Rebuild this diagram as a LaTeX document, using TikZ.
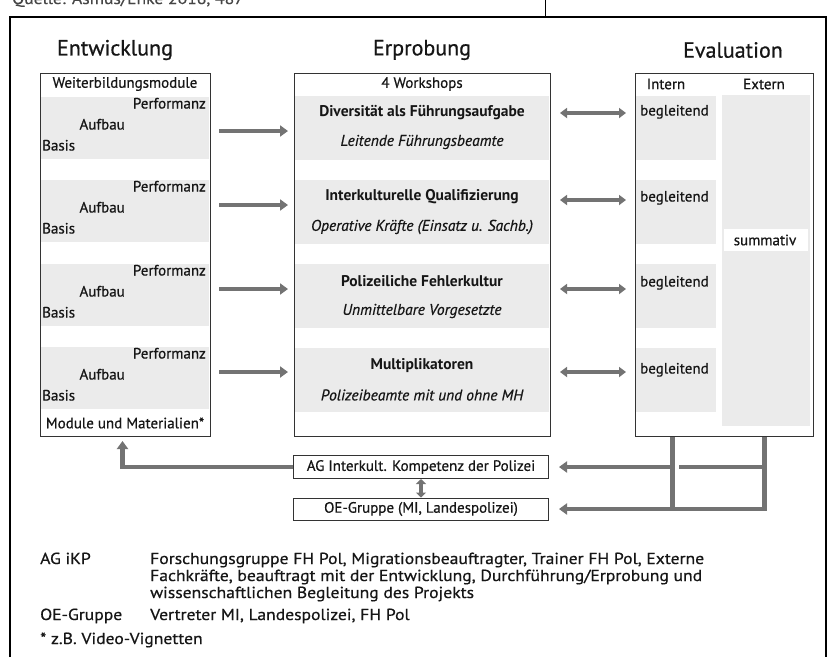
\documentclass[tikz,border=0pt]{standalone}
\usepackage{fontspec}
\setmainfont{PT Sans}
\newfontfamily\medfont[FakeBold=0.6]{PT Sans}
\newfontfamily\legfont[FakeBold=0.6,FakeStretch=1.1]{PT Sans}
\newfontfamily\meditfont[FakeBold=0.6]{PT Sans Italic}
\usetikzlibrary{arrows.meta}
\definecolor{arr}{HTML}{737373}
\definecolor{band}{HTML}{EBEBEB}
\definecolor{bord}{HTML}{333333}
\definecolor{ink}{HTML}{161616}
\begin{document}
\begin{tikzpicture}[x=1pt,y=-1pt,
  boxframe/.style={draw=bord,line width=1pt,inner sep=0pt},
  title/.style={font=\medfont\fontsize{22}{26}\selectfont,text=ink,inner sep=0pt},
  txt/.style={font=\medfont\fontsize{15}{18}\selectfont,text=ink,inner sep=0pt},
  btxt/.style={font=\fontsize{15.5}{18}\selectfont\bfseries,text=ink,inner sep=0pt},
  itxt/.style={font=\meditfont\fontsize{15.5}{18}\selectfont,text=ink,inner sep=0pt},
  leg/.style={font=\legfont\fontsize{16}{19}\selectfont,text=ink,inner sep=0pt},
  fat/.style={draw=arr,line width=4.5pt},
  tip/.tip={Triangle[length=8pt,width=11pt]},
  stip/.tip={Triangle[length=7pt,width=10pt]}
]
\useasboundingbox (0,0) rectangle (827,657);
\fill[white] (0,0) rectangle (827,657);

% caption line cut at top
\node[leg,anchor=base west,text=ink!80] (src) at (12,4) {Quelle: Asmus/Enke 2016, 487};
% outer frame
\draw[line width=1.5pt] (10,657) -- (10,17) -- (826,17) -- (826,657);
\draw[line width=1pt] (545,0) -- (545,17);

% titles
\node[title] (t1) at (115,50) {Entwicklung};
\node[title] (t2) at (422,50) {Erprobung};
\node[title] (t3) at (733,50) {Evaluation};

% shading bands
\foreach \d in {0,83,167,250}{
  \fill[band] (41,97+\d) rectangle (209,159+\d);
}
\foreach \d in {0,84,168,252}{
  \fill[band] (295,96+\d) rectangle (549,160+\d);
  \fill[band] (636,96+\d) rectangle (716,160+\d);
}
\fill[band] (722,95) rectangle (810,426);
\fill[white] (724,229) rectangle (808,251);

% three main boxes
\node[boxframe,anchor=north west,minimum width=170pt,minimum height=363pt] (L) at (40,73) {};
\node[boxframe,anchor=north west,minimum width=256pt,minimum height=363pt] (M) at (294,73) {};
\node[boxframe,anchor=north west,minimum width=178pt,minimum height=363pt] (R) at (635,73) {};

% left box texts
\node[txt] (lh) at (125,84) {Weiterbildungsmodule};
\foreach \d/\n in {0/1,83/2,167/3,250/4}{
  \node[txt,anchor=mid east] (perf\n) at (206,106+\d) {Performanz};
  \node[txt,anchor=mid east] (auf\n) at (125,127+\d) {Aufbau};
  \node[txt,anchor=mid west] (bas\n) at (42,148+\d) {Basis};
}
\node[txt] (lm) at (125,423) {Module und Materialien*};

% middle box texts
\node[txt] (mh) at (422,84) {4 Workshops};
\node[btxt] (w1) at (422,113) {Diversität als Führungsaufgabe};
\node[itxt] (g1) at (422,142) {Leitende Führungsbeamte};
\node[btxt] (w2) at (422,197) {Interkulturelle Qualifizierung};
\node[itxt] (g2) at (422,227) {Operative Kräfte (Einsatz u. Sachb.)};
\node[btxt] (w3) at (422,281) {Polizeiliche Fehlerkultur};
\node[itxt] (g3) at (422,311) {Unmittelbare Vorgesetzte};
\node[btxt] (w4) at (422,366) {Multiplikatoren};
\node[itxt] (g4) at (422,395) {Polizeibeamte mit und ohne MH};

% right box texts
\node[txt] (ri) at (666,84) {Intern};
\node[txt] (re) at (764,84) {Extern};
\node[txt,anchor=mid west] (b1) at (640,113) {begleitend};
\node[txt,anchor=mid west] (b2) at (640,199) {begleitend};
\node[txt,anchor=mid west] (b3) at (640,284) {begleitend};
\node[txt,anchor=mid west] (b4) at (640,371) {begleitend};
\node[txt] (sm) at (765,240) {summativ};

% row coordinates
\coordinate (r1) at (0,131);
\coordinate (r2) at (0,205);
\coordinate (r3) at (0,289);
\coordinate (r4) at (0,372);
\coordinate (s1) at (0,113);
\coordinate (s2) at (0,200);
\coordinate (s3) at (0,289);
\coordinate (s4) at (0,372);

% arrows left -> middle
\foreach \r in {r1,r2,r3,r4}{
  \draw[fat,-tip] ([xshift=8pt]L.east |- \r) -- ([xshift=-6pt]M.west |- \r);
}
% double arrows middle <-> right
\foreach \s in {s1,s2,s3,s4}{
  \draw[fat,stip-stip] ([xshift=9pt]M.east |- \s) -- ([xshift=-9pt]R.west |- \s);
}

% bottom boxes
\node[boxframe,minimum width=255pt,minimum height=23pt,txt] (AG) at (421,467) {AG Interkult. Kompetenz der Polizei};
\node[boxframe,minimum width=255pt,minimum height=22pt,txt] (OE) at (421,509) {OE-Gruppe (MI, Landespolizei)};

% AG -> left box
\draw[fat,-tip] (AG.west) -| ([xshift=-3pt,yshift=-4pt]L.south);
% AG <-> OE
\draw[fat,{Triangle[length=5pt,width=10pt]}-{Triangle[length=5pt,width=10pt]}] (AG.south) -- (OE.north);

% evaluation feedback lines
\coordinate (vi) at ([xshift=-52pt]R.south);
\coordinate (ve) at ([xshift=40pt]R.south);
\draw[fat] (ve |- AG.east) -- ([xshift=6pt]vi |- AG.east);
\draw[fat,-tip] ([xshift=2pt]vi |- AG.east) -- ([xshift=10pt]AG.east);
\draw[fat] (vi) -- (vi |- OE.east);
\draw[fat,-tip] (ve) |- ([xshift=10pt]OE.east);

% legend
\node[leg,anchor=base west] (k1) at (40,564) {AG iKP};
\node[leg,anchor=base west] (d1a) at (150,564) {Forschungsgruppe FH Pol, Migrationsbeauftragter, Trainer FH Pol, Externe};
\node[leg,anchor=base west] (d1b) at (150,581) {Fachkräfte, beauftragt mit der Entwicklung, Durchführung/Erprobung und};
\node[leg,anchor=base west] (d1c) at (150,598) {wissenschaftlichen Begleitung des Projekts};
\node[leg,anchor=base west] (k2) at (40,620) {OE-Gruppe};
\node[leg,anchor=base west] (d2) at (150,620) {Vertreter MI, Landespolizei, FH Pol};
\node[leg,anchor=base west] (k3) at (40,644) {* z.B. Video-Vignetten};
\end{tikzpicture}
\end{document}
